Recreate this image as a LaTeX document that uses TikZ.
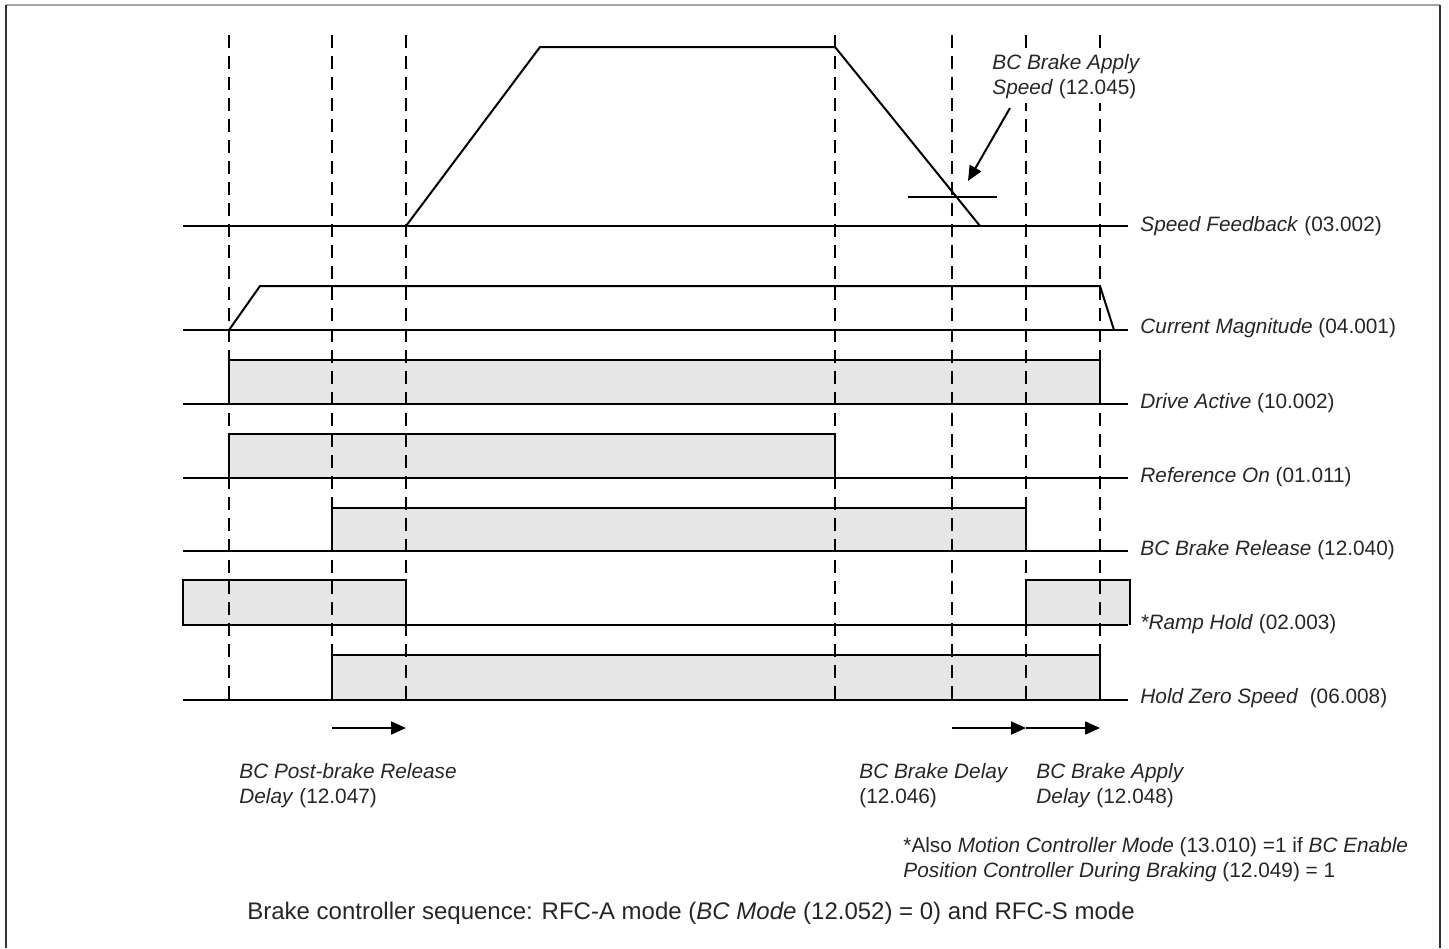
\documentclass[tikz,border=0pt]{standalone}
\usepackage{fontspec}
\setmainfont{Liberation Sans}
\usetikzlibrary{arrows.meta}
\definecolor{boxfill}{HTML}{E6E6E6}
\definecolor{txt}{HTML}{262626}
\begin{document}
\begin{tikzpicture}[x=0.5pt,y=-0.5pt,
  wave/.style={line width=1pt, black},
  dashv/.style={line width=1pt, black, dash pattern=on 6.5pt off 4pt},
  pulse/.style={line width=1pt, draw=black, fill=boxfill},
  lbl/.style={anchor=west, inner sep=0pt, font=\fontsize{10.4}{12.5}\selectfont, text=txt},
  mlbl/.style={anchor=north west, inner sep=0pt, align=left, font=\fontsize{10.4}{12.5}\selectfont, text=txt},
  tarrow/.style={line width=1pt, black, -{Triangle[length=7.5pt,width=6.5pt]}}]
\useasboundingbox (0,0) rectangle (1449,948);
% frame
\draw[gray!70, line width=1pt] (6,5) -- (1440,5);
\draw[black!80, line width=1.3pt] (6,948) -- (6,5);
\draw[black!80, line width=1pt] (1440,5) -- (1440,948);

% pulses
\filldraw[pulse] (229,404) -- (229,360) -- (1100,360) -- (1100,404);
\filldraw[pulse] (229,478) -- (229,434) -- (835,434) -- (835,478);
\filldraw[pulse] (332,551) -- (332,508) -- (1026,508) -- (1026,551);
\filldraw[pulse] (183,580) rectangle (406,625);
\filldraw[pulse] (1026,625) -- (1026,580) -- (1130,580) -- (1130,625);
\filldraw[pulse] (332,700) -- (332,655) -- (1100,655) -- (1100,700);

% baselines
\foreach \y in {226,330,404,478,551,625,700}
  \draw[wave] (183,\y) -- (1128,\y);

% speed feedback trace
\draw[wave] (406,226) -- (540,47) -- (835,47) -- (980,226);
\draw[wave] (908,197) -- (997,197);
% current magnitude trace
\draw[wave] (229,330) -- (260,286) -- (1100,286) -- (1114,330);

% dashed verticals
\foreach \x in {229,332,406,835,952,1026,1100}
  \draw[dashv] (\x,35) -- (\x,700);

% right labels
\node[lbl] (l1) at (1140,226) {\textit{Speed Feedback} (03.002)};
\node[lbl] (l2) at (1140,328) {\textit{Current Magnitude} (04.001)};
\node[lbl] (l3) at (1140,403) {\textit{Drive Active} (10.002)};
\node[lbl] (l4) at (1140,477) {\textit{Reference On} (01.011)};
\node[lbl] (l5) at (1140,550) {\textit{BC Brake Release} (12.040)};
\node[lbl] (l6) at (1140,624) {\textit{*Ramp Hold} (02.003)};
\node[lbl] (l7) at (1140,698) {\textit{Hold Zero Speed}\ \ (06.008)};

% brake apply speed annotation
\node[mlbl, fill=white, inner sep=2pt] (bas) at (988,50) {\textit{BC Brake Apply}\\\textit{Speed} (12.045)};
\coordinate (a1) at (1010,108);
\coordinate (a2) at (968,181);
\draw[tarrow] (a1) -- (a2);

% delay arrows
\coordinate (d1) at (332,728); \coordinate (d2) at (406,728);
\coordinate (d3) at (952,728); \coordinate (d4) at (1026,728); \coordinate (d5) at (1100,728);
\draw[tarrow] (d1) -- (d2);
\draw[tarrow] (d3) -- (d4);
\draw[tarrow] (d4) -- (d5);

% bottom labels
\node[mlbl] (b1) at (239,763) {\textit{BC Post-brake Release}\\\textit{Delay} (12.047)};
\node[mlbl] (b2) at (859,763) {\textit{BC Brake Delay}\\(12.046)};
\node[mlbl] (b3) at (1036,763) {\textit{BC Brake Apply}\\\textit{Delay} (12.048)};

% footnote
\node[mlbl] (fn) at (903,837) {*Also \textit{Motion Controller Mode} (13.010) =1 if \textit{BC Enable}\\\textit{Position Controller During Braking} (12.049) = 1};

% caption
\node[anchor=west, inner sep=0pt, font=\fontsize{12}{14}\selectfont, text=txt] (cap) at (247,913) {Brake controller sequence: RFC-A mode (\textit{BC Mode} (12.052) = 0) and RFC-S mode};
\end{tikzpicture}
\end{document}
